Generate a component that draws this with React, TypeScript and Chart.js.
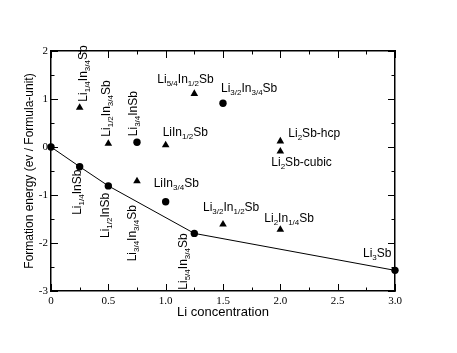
import React, { useEffect, useRef } from "react";
import { Chart, registerables } from "chart.js";

Chart.register(...registerables);

// ---- data ----
const hullX = [0, 0.25, 0.5, 1.25, 3];
const hullY = [0, -0.41, -0.81, -1.8, -2.57];

const circleX = [0, 0.25, 0.5, 0.75, 1, 1.25, 1.5, 3];
const circleY = [0, -0.41, -0.81, 0.1, -1.14, -1.8, 0.91, -2.57];
const circleNames = [
  "",
  "Li_{1/4}InSb",
  "Li_{1/2}InSb",
  "Li_{3/4}InSb",
  "LiIn_{3/4}Sb",
  "Li_{5/4}In_{3/4}Sb",
  "Li_{3/2}In_{3/4}Sb",
  "Li_{3}Sb",
];

const triangleX = [0.25, 0.5, 0.75, 1, 1.25, 1.5, 2, 2, 2];
const triangleY = [0.82, 0.07, -0.71, 0.04, 1.11, -1.61, 0.12, -0.09, -1.72];
const triangleNames = [
  "Li_{1/4}In_{3/4}Sb",
  "Li_{1/2}In_{3/4}Sb",
  "Li_{3/4}In_{3/4}Sb",
  "LiIn_{1/2}Sb",
  "Li_{5/4}In_{1/2}Sb",
  "Li_{3/2}In_{1/2}Sb",
  "Li_{2}Sb-hcp",
  "Li_{2}Sb-cubic",
  "Li_{2}In_{1/4}Sb",
];

const xTitle = "Li concentration";
const yTitle = "Formation energy (ev / Formula-unit)";
const xMin = 0, xMax = 3, xStep = 0.5, xMinorStep = 0.25;
const yMin = -3, yMax = 2, yStep = 1, yMinorStep = 0.5;

// ---- label placement (pixel offsets from the point; style only) ----
type Place = { dx: number; dy: number; rot?: boolean; align?: "start" | "end" } | null;
const circlePlace: Place[] = [
  null,
  { dx: 1, dy: 3, rot: true, align: "end" },
  { dx: 1, dy: 7, rot: true, align: "end" },
  { dx: 0, dy: -6, rot: true, align: "start" },
  { dx: -12, dy: -15 },
  { dx: -7, dy: 0, rot: true, align: "end" },
  { dx: -2, dy: -11 },
  { dx: -32, dy: -13 },
];
const trianglePlace: Place[] = [
  { dx: 7, dy: -6, rot: true, align: "start" },
  { dx: 2, dy: -7, rot: true, align: "start" },
  { dx: -1, dy: 24, rot: true, align: "end" },
  { dx: -3, dy: -9 },
  { dx: -37, dy: -11 },
  { dx: -20, dy: -13 },
  { dx: 8, dy: -4 },
  { dx: -9, dy: 15 },
  { dx: -16, dy: -8 },
];

const SANS = "'Liberation Sans', Arial, sans-serif";
const SERIF = "'Liberation Serif', 'Times New Roman', serif";
const MAIN_FONT = `12px ${SANS}`;
const SUB_FONT = `8px ${SANS}`;
const SUB_SHIFT = 3;

function parseRich(text: string) {
  const segs: { t: string; sub: boolean }[] = [];
  const re = /_\{([^}]*)\}/g;
  let last = 0;
  let m: RegExpExecArray | null;
  while ((m = re.exec(text))) {
    if (m.index > last) segs.push({ t: text.slice(last, m.index), sub: false });
    segs.push({ t: m[1], sub: true });
    last = m.index + m[0].length;
  }
  if (last < text.length) segs.push({ t: text.slice(last), sub: false });
  return segs;
}

function drawRich(ctx: CanvasRenderingContext2D, text: string, align: "start" | "end") {
  const segs = parseRich(text);
  let total = 0;
  const widths = segs.map((s) => {
    ctx.font = s.sub ? SUB_FONT : MAIN_FONT;
    const w = ctx.measureText(s.t).width;
    total += w;
    return w;
  });
  let x = align === "end" ? -total : 0;
  segs.forEach((s, i) => {
    ctx.font = s.sub ? SUB_FONT : MAIN_FONT;
    ctx.fillText(s.t, x, s.sub ? SUB_SHIFT : 0);
    x += widths[i];
  });
}

const labelPlugin = {
  id: "compoundLabels",
  afterDatasetsDraw(chart: any) {
    const { ctx, scales } = chart;
    const xs = scales.x, ys = scales.y;
    ctx.save();
    ctx.fillStyle = "#000";
    ctx.textBaseline = "alphabetic";
    ctx.textAlign = "left";
    const doSet = (X: number[], Y: number[], names: string[], places: Place[]) => {
      names.forEach((name, i) => {
        const p = places[i];
        if (!name || !p) return;
        const px = xs.getPixelForValue(X[i]) + p.dx;
        const py = ys.getPixelForValue(Y[i]) + p.dy;
        ctx.save();
        ctx.translate(px, py);
        if (p.rot) ctx.rotate(-Math.PI / 2);
        drawRich(ctx, name, p.align || "start");
        ctx.restore();
      });
    };
    doSet(circleX, circleY, circleNames, circlePlace);
    doSet(triangleX, triangleY, triangleNames, trianglePlace);
    ctx.restore();
  },
};

const tickPlugin = {
  id: "inwardTicks",
  afterDraw(chart: any) {
    const { ctx, chartArea, scales } = chart;
    const { left, right, top, bottom } = chartArea;
    const xs = scales.x, ys = scales.y;
    const MAJ = 7, MIN = 3.5;
    ctx.save();
    ctx.strokeStyle = "#000";
    ctx.lineWidth = 1;
    ctx.beginPath();
    const nx = Math.round((xMax - xMin) / xMinorStep);
    for (let k = 0; k <= nx; k++) {
      const v = xMin + k * xMinorStep;
      const major = Math.abs(v / xStep - Math.round(v / xStep)) < 1e-6;
      const L = major ? MAJ : MIN;
      const px = Math.round(xs.getPixelForValue(v)) + 0.5;
      ctx.moveTo(px, bottom);
      ctx.lineTo(px, bottom - L);
      ctx.moveTo(px, top);
      ctx.lineTo(px, top + L);
    }
    const ny = Math.round((yMax - yMin) / yMinorStep);
    for (let k = 0; k <= ny; k++) {
      const v = yMin + k * yMinorStep;
      const major = Math.abs(v / yStep - Math.round(v / yStep)) < 1e-6;
      const L = major ? MAJ : MIN;
      const py = Math.round(ys.getPixelForValue(v)) + 0.5;
      ctx.moveTo(left, py);
      ctx.lineTo(left + L, py);
      ctx.moveTo(right, py);
      ctx.lineTo(right - L, py);
    }
    ctx.stroke();
    ctx.restore();
  },
};

export default function App() {
  const ref = useRef<HTMLCanvasElement | null>(null);
  useEffect(() => {
    document.body.style.margin = "0";
    const canvas = ref.current;
    if (!canvas) return;
    const border = { display: true, color: "#000", width: 1.5 };
    const chart = new Chart(canvas, {
      type: "scatter",
      data: {
        datasets: [
          {
            type: "line",
            data: hullX.map((x, i) => ({ x, y: hullY[i] })),
            borderColor: "#000",
            borderWidth: 1,
            pointRadius: 0,
            fill: false,
            tension: 0,
            clip: false,
          } as any,
          {
            data: circleX.map((x, i) => ({ x, y: circleY[i] })),
            pointStyle: "circle",
            pointRadius: 3.7,
            backgroundColor: "#000",
            borderColor: "#000",
            borderWidth: 0,
            clip: false,
          } as any,
          {
            data: triangleX.map((x, i) => ({ x, y: triangleY[i] })),
            pointStyle: "triangle",
            pointRadius: 4.4,
            backgroundColor: "#000",
            borderColor: "#000",
            borderWidth: 0,
            clip: false,
          } as any,
        ],
      },
      options: {
        animation: false,
        responsive: false,
        devicePixelRatio: 1,
        events: [],
        layout: { padding: { top: 51, right: 62, bottom: 0, left: 0 } },
        plugins: {
          legend: { display: false },
          tooltip: { enabled: false },
        },
        scales: {
          x: {
            type: "linear",
            position: "bottom",
            min: xMin,
            max: xMax,
            grid: { display: false, drawTicks: false },
            border,
            ticks: {
              stepSize: xStep,
              autoSkip: false,
              color: "#000",
              padding: 4,
              maxRotation: 0,
              font: { family: SERIF, size: 11 },
            },
            title: {
              display: true,
              text: xTitle,
              color: "#000",
              font: { family: SANS, size: 13 },
              padding: { top: 0, bottom: 33 },
            },
            afterFit: (s: any) => {
              s.height = 62;
            },
          },
          y: {
            type: "linear",
            position: "left",
            min: yMin,
            max: yMax,
            grid: { display: false, drawTicks: false },
            border,
            ticks: {
              stepSize: yStep,
              autoSkip: false,
              color: "#000",
              padding: 3,
              font: { family: SERIF, size: 11 },
            },
            title: {
              display: true,
              text: yTitle,
              color: "#000",
              font: { family: SANS, size: 12 },
              padding: { top: 22, bottom: 0 },
            },
            afterFit: (s: any) => {
              s.width = 51;
            },
          },
          x2: {
            type: "linear",
            position: "top",
            min: xMin,
            max: xMax,
            grid: { display: false, drawTicks: false },
            border,
            ticks: { display: false },
            afterFit: (s: any) => {
              s.height = 0;
            },
          },
          y2: {
            type: "linear",
            position: "right",
            min: yMin,
            max: yMax,
            grid: { display: false, drawTicks: false },
            border,
            ticks: { display: false },
            afterFit: (s: any) => {
              s.width = 0;
            },
          },
        },
      } as any,
      plugins: [labelPlugin, tickPlugin],
    });
    return () => chart.destroy();
  }, []);
  return (
    <canvas
      ref={ref}
      width={457}
      height={353}
      style={{ display: "block", width: 457, height: 353 }}
    />
  );
}
